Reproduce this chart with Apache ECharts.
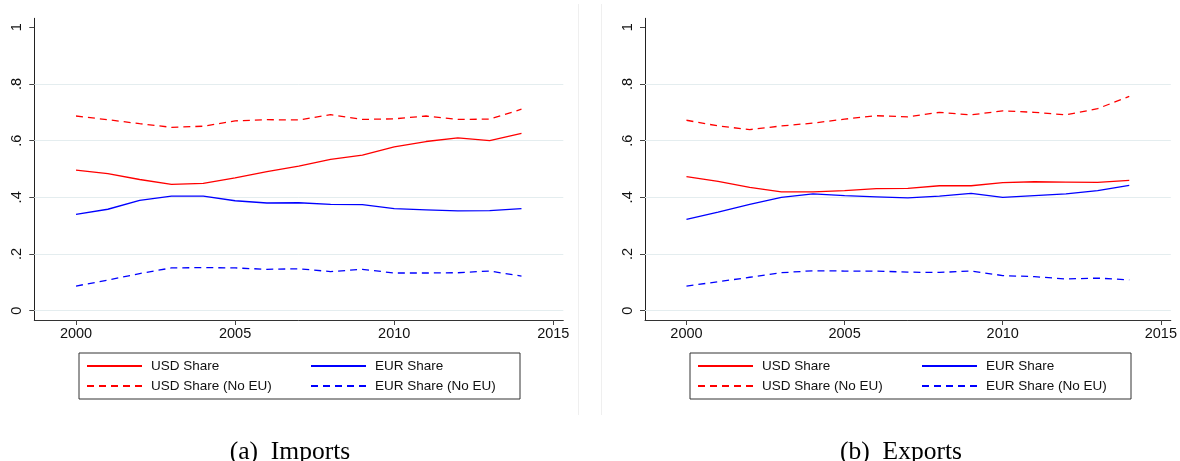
<!DOCTYPE html>
<html>
<head>
<meta charset="utf-8">
<script src="https://cdn.jsdelivr.net/npm/echarts@6/dist/echarts.min.js"></script>
<style>
html,body{margin:0;padding:0;background:#fff;}
#c{width:1180px;height:461px;}
</style>
</head>
<body>
<div id="c"></div>
<script>
const years = [2000,2001,2002,2003,2004,2005,2006,2007,2008,2009,2010,2011,2012,2013,2014];
// Imports panel
const impUSD     = [0.496,0.484,0.463,0.446,0.449,0.469,0.491,0.510,0.534,0.549,0.578,0.597,0.610,0.600,0.626];
const impEUR     = [0.340,0.358,0.389,0.404,0.404,0.388,0.380,0.381,0.375,0.374,0.360,0.356,0.352,0.353,0.360];
const impUSDnoEU = [0.687,0.674,0.660,0.647,0.651,0.670,0.674,0.673,0.692,0.675,0.677,0.687,0.675,0.676,0.711];
const impEURnoEU = [0.087,0.108,0.131,0.151,0.152,0.151,0.146,0.148,0.138,0.146,0.133,0.133,0.134,0.140,0.122];
// Exports panel
const expUSD     = [0.473,0.456,0.435,0.419,0.419,0.424,0.431,0.432,0.441,0.441,0.452,0.455,0.454,0.453,0.460];
const expEUR     = [0.322,0.348,0.375,0.400,0.412,0.406,0.402,0.398,0.404,0.414,0.400,0.406,0.412,0.424,0.442];
const expUSDnoEU = [0.672,0.652,0.639,0.652,0.662,0.676,0.688,0.684,0.700,0.691,0.705,0.700,0.691,0.713,0.756];
const expEURnoEU = [0.087,0.102,0.118,0.134,0.141,0.140,0.140,0.136,0.135,0.140,0.124,0.120,0.112,0.115,0.109];

const seriesNames = ['USD Share','EUR Share','USD Share (No EU)','EUR Share (No EU)'];
const xTicks = [2000,2005,2010,2015];
const yTicks = [0,0.2,0.4,0.6,0.8,1];
const gridVals = [0,0.2,0.4,0.6,0.8];
const captions = ['(a)  Imports','(b)  Exports'];

const RED = '#ff0000', BLUE = '#0000ff';
const SANS = 'Liberation Sans';
const pair = arr => years.map((y,i)=>[y,arr[i]]);

function xAxisFor(gi){
  return {
    type:'value', gridIndex:gi, min:1998.689, max:2015.314,
    axisLine:{show:true, onZero:false, lineStyle:{color:'#333', width:1}},
    axisTick:{show:true, length:5, customValues:xTicks, lineStyle:{color:'#444'}},
    axisLabel:{customValues:xTicks, margin:6, fontSize:14.5, fontFamily:SANS, color:'#111',
      formatter: v => String(Math.round(v))},
    splitLine:{show:false}
  };
}
function yAxisFor(gi){
  return {
    type:'value', gridIndex:gi, min:-0.0328, max:1.0318,
    axisLine:{show:true, lineStyle:{color:'#222', width:1}},
    axisTick:{show:true, length:5, customValues:yTicks, lineStyle:{color:'#444'}},
    axisLabel:{customValues:yTicks, rotate:90, margin:10, fontSize:14.5, fontFamily:SANS, color:'#111',
      formatter: v => (v===0 ? '0' : (Math.abs(v-1)<1e-9 ? '1' : String(+v.toFixed(2)).replace(/^0\./,'.')))},
    splitLine:{show:false}
  };
}
function lineSeries(name, arr, gi, color, dashed){
  return {
    type:'line', name, xAxisIndex:gi, yAxisIndex:gi, data:pair(arr),
    symbol:'none', showSymbol:false, smooth:false, z:3,
    lineStyle:{color, width:1.3, type: dashed ? [7,5] : 'solid'},
    itemStyle:{color}
  };
}
function gridSeries(gi){
  return {
    type:'line', name:'_grid'+gi, xAxisIndex:gi, yAxisIndex:gi, data:[], z:1, silent:true,
    markLine:{silent:true, z:1, symbol:['none','none'], label:{show:false}, animation:false,
      lineStyle:{color:'#e4edef', type:'solid', width:1},
      data: gridVals.map(v=>({yAxis:v}))}
  };
}
function legendFor(left){
  const W1 = 153, W2 = 138;
  return {
    left, top:353, width:500, orient:'horizontal',
    itemWidth:55, itemHeight:14, itemGap:6,
    padding:[6,7,6,7], borderColor:'#333', borderWidth:1,
    selectedMode:false,
    itemStyle:{opacity:0},
    textStyle:{fontFamily:SANS, fontSize:13.5, color:'#111', lineHeight:14, padding:[0,0,0,4]},
    data:[
      {name:seriesNames[0], textStyle:{width:W1}},
      {name:seriesNames[1], textStyle:{width:W2}},
      {name:seriesNames[2], textStyle:{width:W1}},
      {name:seriesNames[3], textStyle:{width:W2}}
    ]
  };
}

const chart = echarts.init(document.getElementById('c'), null, {renderer:'canvas'});
chart.setOption({
  animation:false,
  backgroundColor:'#ffffff',
  grid:[
    {left:34.3, top:18.3, width:529, height:301.7},
    {left:645, top:18.3, width:529, height:301.7}
  ],
  xAxis:[xAxisFor(0), xAxisFor(1)],
  yAxis:[yAxisFor(0), yAxisFor(1)],
  legend:[legendFor(79), legendFor(690)],
  title:[
    {text:captions[0], left:285, top:434, textAlign:'center',
     textStyle:{fontFamily:'Liberation Serif', fontSize:25.5, fontWeight:'normal', color:'#000'}},
    {text:captions[1], left:896, top:434, textAlign:'center',
     textStyle:{fontFamily:'Liberation Serif', fontSize:25.5, fontWeight:'normal', color:'#000'}}
  ],
  graphic:[
    {type:'line', shape:{x1:578.5,y1:4,x2:578.5,y2:415}, style:{stroke:'#efefef', lineWidth:1}, silent:true},
    {type:'line', shape:{x1:601.5,y1:4,x2:601.5,y2:415}, style:{stroke:'#efefef', lineWidth:1}, silent:true}
  ],
  series:[
    gridSeries(0), gridSeries(1),
    lineSeries(seriesNames[0], impUSD, 0, RED, false),
    lineSeries(seriesNames[1], impEUR, 0, BLUE, false),
    lineSeries(seriesNames[2], impUSDnoEU, 0, RED, true),
    lineSeries(seriesNames[3], impEURnoEU, 0, BLUE, true),
    lineSeries(seriesNames[0], expUSD, 1, RED, false),
    lineSeries(seriesNames[1], expEUR, 1, BLUE, false),
    lineSeries(seriesNames[2], expUSDnoEU, 1, RED, true),
    lineSeries(seriesNames[3], expEURnoEU, 1, BLUE, true)
  ]
});
</script>
</body>
</html>
